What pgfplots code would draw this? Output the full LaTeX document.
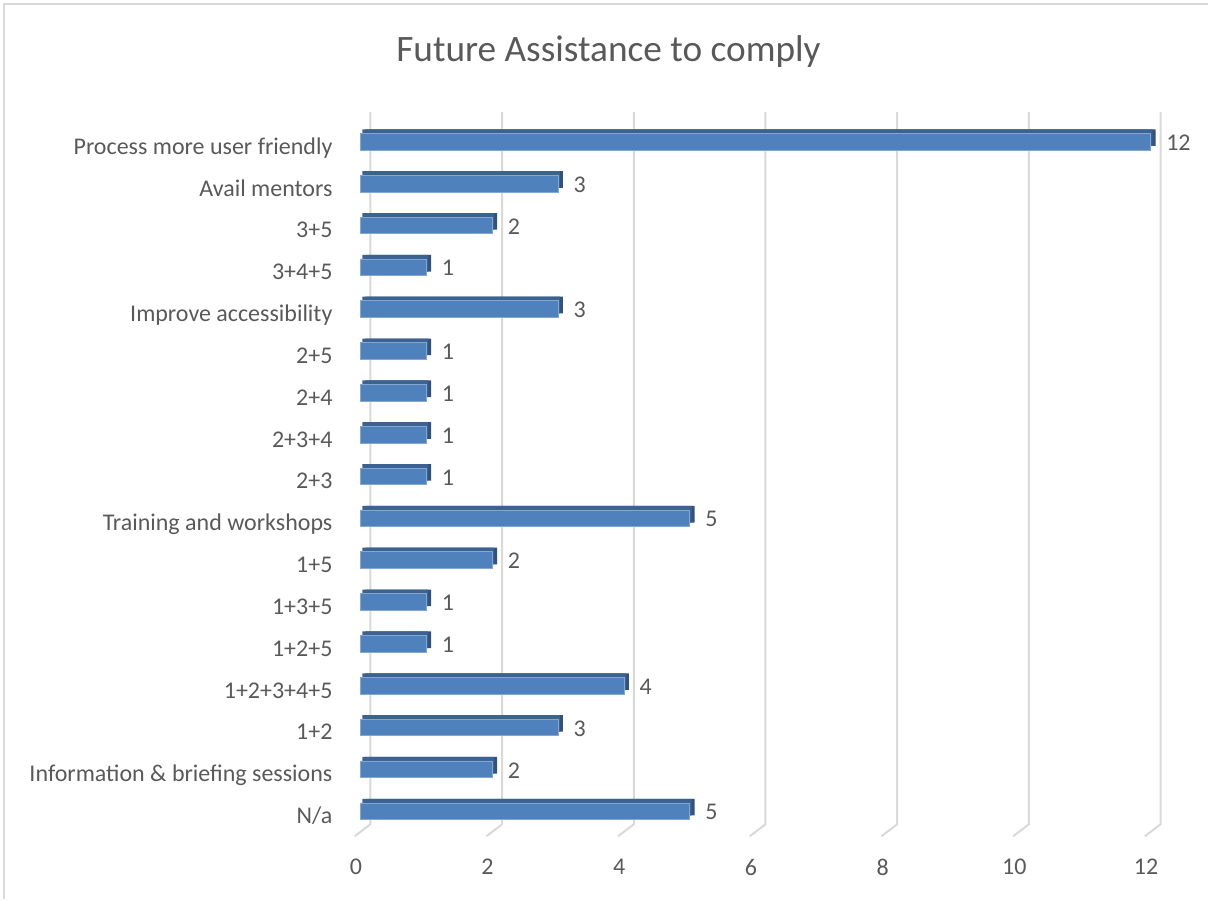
\documentclass[border=0pt]{standalone}
\usepackage{pgfplots}
\pgfplotsset{compat=1.18}
\usepackage{fontspec}
\setmainfont{Carlito}
\definecolor{barfront}{RGB}{79,129,189}
\definecolor{bartop}{RGB}{60,98,145}
\definecolor{barside}{RGB}{50,82,124}
\definecolor{gridc}{RGB}{217,217,217}
\definecolor{txt}{RGB}{89,89,89}
\pgfplotstableread{
v  c
5  0
2  1
3  2
4  3
1  4
1  5
2  6
5  7
1  8
1  9
1  10
1  11
3  12
1  13
2  14
3  15
12 16
}\datatab
\begin{document}
\begin{tikzpicture}[x=0.75pt,y=0.75pt]
\path (0,0) rectangle (1209,900);
\draw[gridc, line width=1.5pt] (4,0) -- (4,896) -- (1209,896);
\node[txt, font=\fontsize{28}{34}\selectfont, anchor=base, inner sep=0pt] at (609,838) {Future Assistance to comply};
\begin{axis}[
  at={(270.525pt,50.475pt)}, anchor=south west,
  scale only axis, width=593.1pt, height=533.9pt,
  xmin=0, xmax=12, ymin=-0.5, ymax=16.5,
  clip=false,
  axis line style={draw=none},
  major tick length=0pt,
  tick style={draw=none},
  /pgf/number format/assume math mode=true,
  xtick={0,2,4,6,8,10,12},
  ytick={0,1,...,16},
  yticklabels={N/a, Information \& briefing sessions, 1+2, 1+2+3+4+5, 1+2+5, 1+3+5, 1+5, Training and workshops, 2+3, 2+3+4, 2+4, 2+5, Improve accessibility, 3+4+5, 3+5, Avail mentors, Process more user friendly},
  yticklabel style={anchor=base east, inner sep=0pt, xshift=-20.8pt, yshift=-9.4pt, font=\fontsize{18}{22}\selectfont, text=txt},
  xticklabel style={anchor=north, inner sep=0pt, yshift=-20pt, xshift=-3.4pt, font=\fontsize{18}{22}\selectfont, text=txt},
]
\pgfplotsinvokeforeach{0,2,4,6,8,10,12}{
  \draw[gridc, line width=1.5pt] ([xshift=-4.3pt,yshift=-3.2pt]axis cs:#1,-0.5) -- ([xshift=7.5pt,yshift=5.8pt]axis cs:#1,-0.5) -- ([xshift=7.5pt,yshift=540.5pt]axis cs:#1,-0.5);
}
% right (side) face
\addplot[xbar, bar shift=0pt, bar width=12.5pt, fill=barside, draw=none, xshift=3.75pt, yshift=3pt, forget plot] table[x=v, y=c] {\datatab};
% top face
\addplot[xbar, bar shift=0pt, bar width=12.5pt, fill=bartop, draw=none, xshift=1.5pt, yshift=3pt, forget plot] table[x=v, y=c] {\datatab};
% front face
\addplot[xbar, bar shift=0pt, bar width=12.5pt, fill=barfront, draw=barfront!70!white, line width=0.4pt,
  nodes near coords,
  nodes near coords style={anchor=west, inner sep=0pt, xshift=11.6pt, yshift=-0.75pt, font=\fontsize{18}{22}\selectfont, text=txt}] table[x=v, y=c] {\datatab};
\end{axis}
\end{tikzpicture}
\end{document}
